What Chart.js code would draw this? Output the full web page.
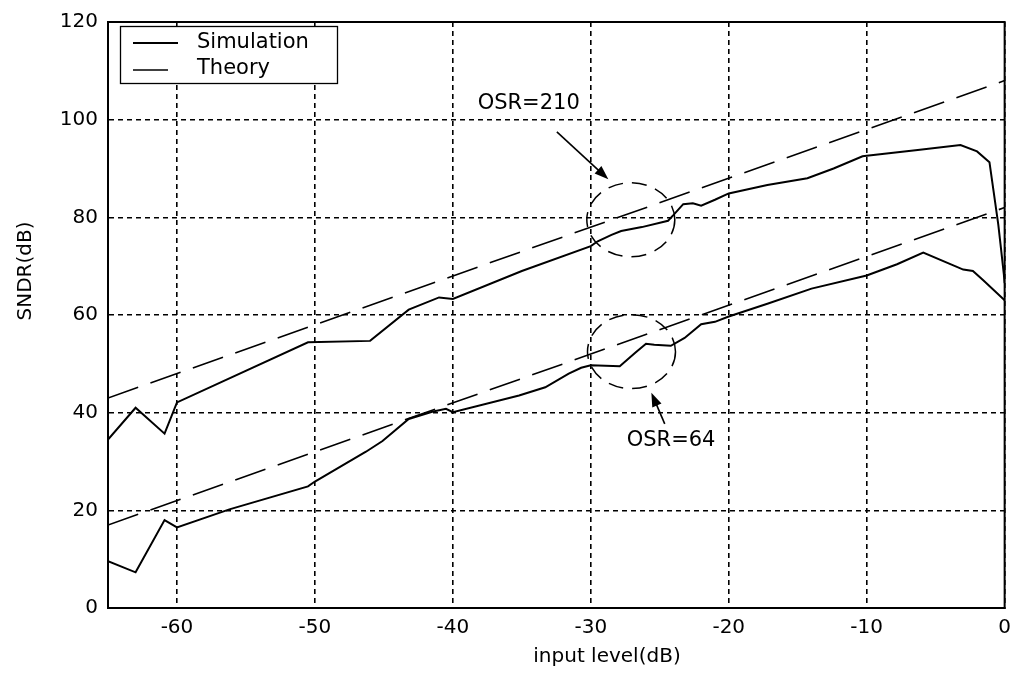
<!DOCTYPE html>
<html>
<head>
<meta charset="utf-8">
<title>SNDR vs input level</title>
<script src="https://cdn.jsdelivr.net/npm/chart.js@4/dist/chart.umd.min.js"></script>
<style>
  html, body { margin: 0; padding: 0; background: #fff; }
  #wrap { width: 1019px; height: 679px; position: relative; }
</style>
</head>
<body>
<div id="wrap"><canvas id="sndrChart"></canvas></div>
<script>
// simulated SNDR, OSR = 210
const inputLevel210 = [-65, -63, -60.9, -60, -50.5, -46, -43.2, -41, -40, -35, -30, -29.5, -28.5, -27.8, -26.3, -24.4, -24, -23.3, -22.6, -22, -21, -20, -17.2, -14.3, -12.4, -10.3, -10, -6.3, -3.2, -2, -1.1, -0.8, -0.46, -0.3, -0.06, 0];
const sndr210 = [34.5, 41, 35.7, 42.1, 54.4, 54.7, 61.1, 63.6, 63.3, 69, 74.1, 75.1, 76.4, 77.2, 78, 79.3, 80.5, 82.7, 82.9, 82.4, 83.6, 84.9, 86.6, 88, 90, 92.5, 92.6, 93.8, 94.8, 93.5, 91.3, 85.3, 78.5, 74.5, 68.4, 66.5];

// simulated SNDR, OSR = 64
const inputLevel64 = [-65, -63, -60.9, -60, -56.2, -50.5, -50, -46.3, -45.1, -43.2, -41.5, -40.5, -40, -35.2, -33.3, -31.6, -30.7, -30, -27.9, -26.8, -26, -25.4, -24.2, -23.2, -22, -21, -20, -17.2, -14, -10, -7.8, -5.9, -3, -2.3, -1.55, 0];
const sndr64 = [9.6, 7.3, 18, 16.5, 20.2, 24.9, 25.9, 32, 34.2, 38.7, 40.2, 40.8, 40.1, 43.5, 45.2, 48, 49.2, 49.7, 49.5, 52.2, 54.1, 53.9, 53.7, 55.3, 58.1, 58.6, 59.7, 62.3, 65.4, 68.1, 70.4, 72.8, 69.3, 69, 67.1, 63];

// ideal SNDR lines
const theoryLevel = [-65, 0];
const theory210 = [43, 108];
const theory64 = [17, 82];

const xTickValues = [-60, -50, -40, -30, -20, -10, 0];
const yTickValues = [0, 20, 40, 60, 80, 100, 120];
const legendLabels = ['Simulation', 'Theory'];

const FONT = "'DejaVu Sans', sans-serif";

function toPoints(xs, ys) {
    return xs.map((x, i) => ({ x: x, y: ys[i] }));
}

function arrow(ctx, x1, y1, x2, y2) {
    const ang = Math.atan2(y2 - y1, x2 - x1);
    const len = 14, half = 5;
    ctx.beginPath();
    ctx.moveTo(x1, y1);
    ctx.lineTo(x2 - Math.cos(ang) * len * 0.6, y2 - Math.sin(ang) * len * 0.6);
    ctx.stroke();
    ctx.beginPath();
    ctx.moveTo(x2, y2);
    ctx.lineTo(x2 - Math.cos(ang) * len - Math.sin(ang) * half, y2 - Math.sin(ang) * len + Math.cos(ang) * half);
    ctx.lineTo(x2 - Math.cos(ang) * len + Math.sin(ang) * half, y2 - Math.sin(ang) * len - Math.cos(ang) * half);
    ctx.closePath();
    ctx.fill();
}

// frame, legend, axis titles and OSR call-outs
const decorations = {
    id: 'decorations',
    afterDraw(chart) {
        const ctx = chart.ctx;
        const area = chart.chartArea;
        const xs = chart.scales.x, ys = chart.scales.y;
        ctx.save();
        ctx.strokeStyle = '#000';
        ctx.fillStyle = '#000';

        // box around plot
        ctx.lineWidth = 2;
        ctx.setLineDash([]);
        ctx.strokeRect(area.left, area.top, area.right - area.left, area.bottom - area.top);

        // dashed circles
        ctx.lineWidth = 1.5;
        ctx.setLineDash([15, 9]);
        [[-27.1, 79.5], [-27.05, 52.5]].forEach(c => {
            ctx.beginPath();
            ctx.ellipse(xs.getPixelForValue(c[0]), ys.getPixelForValue(c[1]), 44, 37, 0, 0, Math.PI * 2);
            ctx.stroke();
        });

        // arrows
        ctx.setLineDash([]);
        ctx.lineWidth = 1.6;
        arrow(ctx, xs.getPixelForValue(-32.46), ys.getPixelForValue(97.5), xs.getPixelForValue(-28.73), ys.getPixelForValue(87.8));
        arrow(ctx, xs.getPixelForValue(-24.64), ys.getPixelForValue(37.7), xs.getPixelForValue(-25.61), ys.getPixelForValue(44.1));

        ctx.font = '21px ' + FONT;
        ctx.textAlign = 'center';
        ctx.textBaseline = 'middle';
        ctx.fillText('OSR=210', xs.getPixelForValue(-34.5), ys.getPixelForValue(103.2));
        ctx.fillText('OSR=64', xs.getPixelForValue(-24.18), ys.getPixelForValue(34.2));

        // legend
        ctx.fillStyle = '#fff';
        ctx.fillRect(120, 26, 218, 58);
        ctx.lineWidth = 1.3;
        ctx.strokeRect(120.5, 26.5, 217, 57);
        ctx.fillStyle = '#000';
        ctx.lineWidth = 2;
        ctx.beginPath(); ctx.moveTo(133, 43); ctx.lineTo(178, 43); ctx.stroke();
        ctx.lineWidth = 1.5;
        ctx.beginPath(); ctx.moveTo(133, 70); ctx.lineTo(168, 70); ctx.stroke();
        ctx.textAlign = 'left';
        ctx.fillText(legendLabels[0], 197, 43);
        ctx.fillText(legendLabels[1], 197, 69);

        // axis titles
        ctx.font = '20px ' + FONT;
        ctx.textAlign = 'center';
        ctx.fillText('input level(dB)', 607, 657);
        ctx.translate(26, 271);
        ctx.rotate(-Math.PI / 2);
        ctx.fillText('SNDR(dB)', 0, 0);
        ctx.restore();
    }
};

const simStyle = { borderColor: '#000', borderWidth: 2, pointRadius: 0, fill: false, tension: 0 };
const theoryStyle = { borderColor: '#000', borderWidth: 1.6, borderDash: [32, 13], pointRadius: 0, fill: false, tension: 0 };

const ctx = document.getElementById('sndrChart').getContext('2d');
new Chart(ctx, {
    type: 'line',
    data: {
        datasets: [
            Object.assign({ label: 'Simulation OSR=210', data: toPoints(inputLevel210, sndr210) }, simStyle),
            Object.assign({ label: 'Simulation OSR=64', data: toPoints(inputLevel64, sndr64) }, simStyle),
            Object.assign({ label: 'Theory OSR=210', data: toPoints(theoryLevel, theory210) }, theoryStyle),
            Object.assign({ label: 'Theory OSR=64', data: toPoints(theoryLevel, theory64) }, theoryStyle)
        ]
    },
    options: {
        responsive: true,
        maintainAspectRatio: false,
        animation: false,
        layout: { padding: { left: 0, right: 11, top: 15, bottom: 0 } },
        scales: {
            x: {
                type: 'linear',
                min: -65,
                max: 0,
                afterBuildTicks: scale => { scale.ticks = xTickValues.map(v => ({ value: v })); },
                afterFit: scale => { scale.height = 71; },
                grid: { color: '#000', lineWidth: 1.6, drawTicks: false },
                border: { display: true, color: '#000', width: 2, dash: [5, 4] },
                ticks: { color: '#000', padding: 8, font: { family: FONT, size: 20 } }
            },
            y: {
                min: 0,
                max: 120,
                afterBuildTicks: scale => { scale.ticks = yTickValues.map(v => ({ value: v })); },
                afterFit: scale => { scale.width = 108; },
                grid: { color: '#000', lineWidth: 1.6, drawTicks: false },
                border: { display: true, color: '#000', width: 2, dash: [5, 4] },
                ticks: { color: '#000', padding: 10, font: { family: FONT, size: 20 } }
            }
        },
        plugins: {
            legend: { display: false },
            tooltip: { enabled: false }
        }
    },
    plugins: [decorations]
});
</script>
</body>
</html>
